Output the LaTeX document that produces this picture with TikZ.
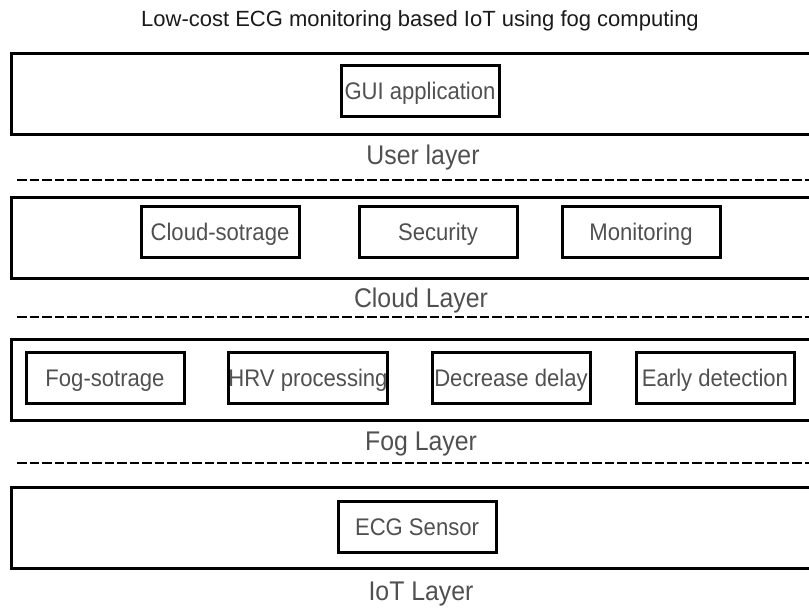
\documentclass[tikz,border=0pt]{standalone}
\usepackage{fontspec}
\setmainfont{Liberation Sans}
\newfontfamily\narrowsans{Liberation Sans}[FakeStretch=0.92]
\usetikzlibrary{positioning}
\definecolor{txtgray}{HTML}{505050}
\definecolor{titlegray}{HTML}{1A1A1A}

\begin{document}
\begin{tikzpicture}[x=1pt,y=-1pt,
  layer/.style={draw,line width=3pt,minimum width=812pt,minimum height=81pt,anchor=north west,inner sep=0pt},
  part/.style={draw,line width=3pt,minimum width=158pt,minimum height=51pt,inner sep=0pt,
    text height=17.2pt,text depth=0pt,text=txtgray,font=\narrowsans\fontsize{24}{26}\selectfont},
  lbl/.style={anchor=base,text=txtgray,font=\narrowsans\fontsize{27}{30}\selectfont},
  sep/.style={line width=2pt,dash pattern=on 9.5pt off 3pt}]
\useasboundingbox (0,0) rectangle (809,610);

\node[anchor=base,text=titlegray,font=\fontsize{22}{24}\selectfont] (title) at (420,27)
  {Low-cost ECG monitoring based IoT using fog computing};

% user layer
\node[layer] (user) at (10,52) {};
\node[part] (gui) at (420,91) {GUI application};
\node[lbl] (userlbl) at (423,164) {User layer};
\draw[sep] (17,180) -- (812,180);

% cloud layer
\node[layer] (cloud) at (10,196) {};
\node[part] (cstore) at (220,231.5) {Cloud-sotrage};
\node[part] (secu) at (438,231.5) {Security};
\node[part] (moni) at (641,231.5) {Monitoring};
\node[lbl] (cloudlbl) at (421,307) {Cloud Layer};
\draw[sep] (17,317) -- (812,317);

% fog layer
\node[layer] (fog) at (10,338) {};
\node[part] (fstore) at (105,378) {Fog-sotrage};
\node[part] (hrv) at (308,378) {HRV processing};
\node[part] (delay) at (511,378) {Decrease delay};
\node[part] (early) at (715,378) {Early detection};
\node[lbl] (foglbl) at (421,450) {Fog Layer};
\draw[sep] (17,463) -- (812,463);

% iot layer
\node[layer] (iot) at (10,486) {};
\node[part] (ecg) at (417,527) {ECG Sensor};
\node[lbl] (iotlbl) at (421,600) {IoT Layer};
\end{tikzpicture}
\end{document}
